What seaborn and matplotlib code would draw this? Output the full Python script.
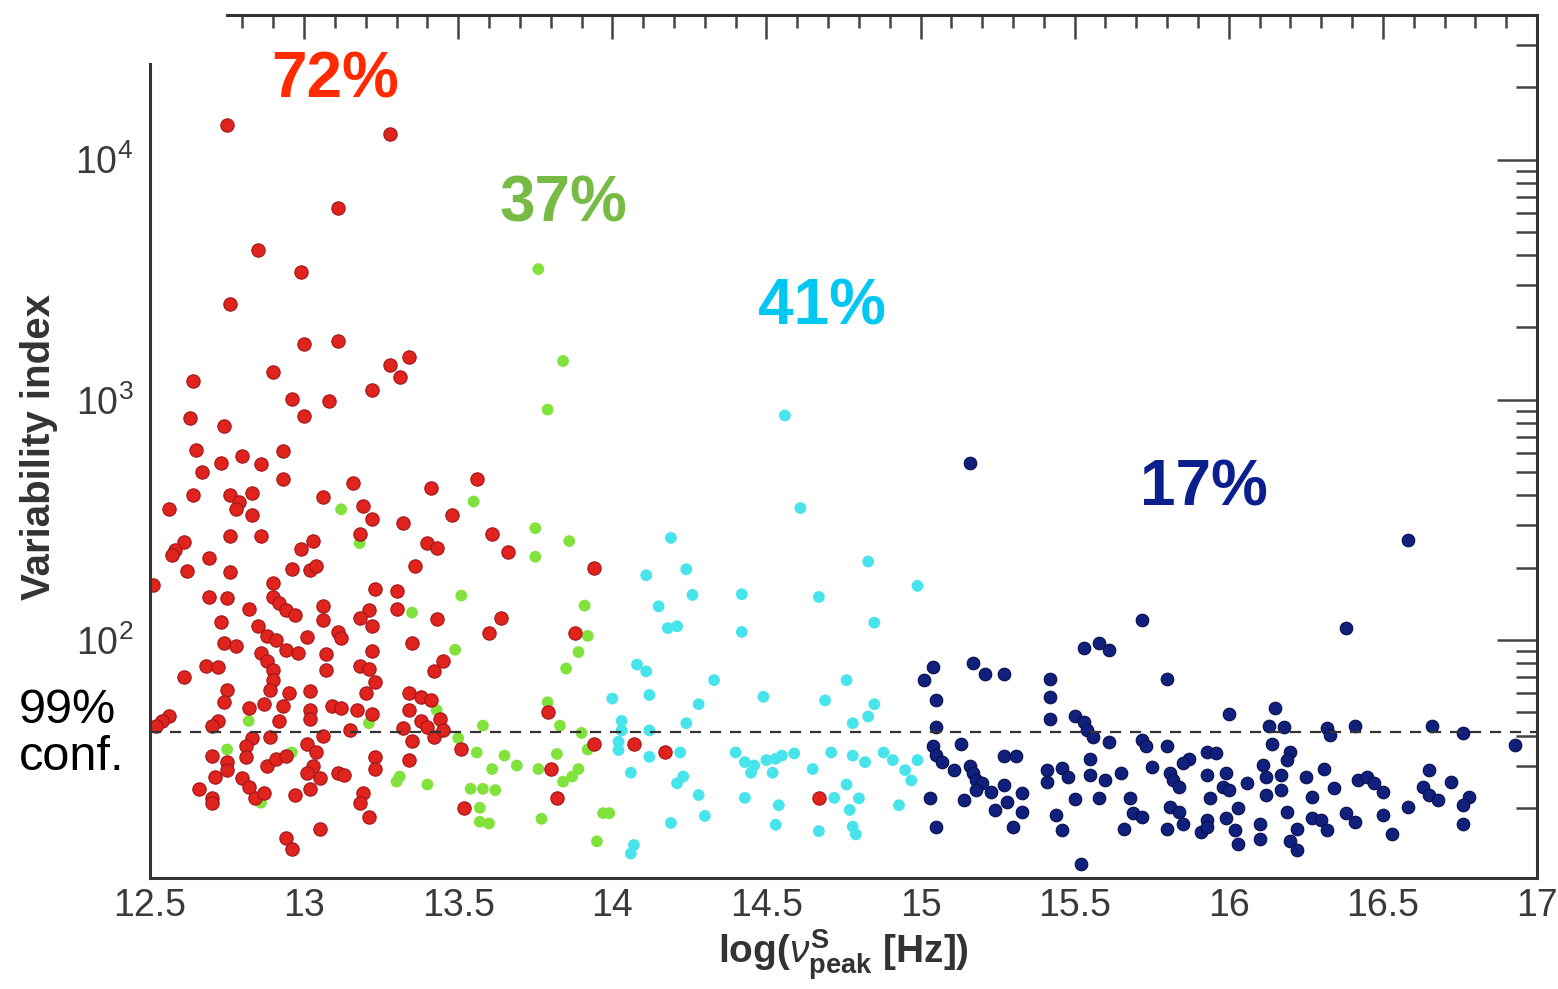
import numpy as np
import pandas as pd
import matplotlib
matplotlib.use('Agg')
import matplotlib.pyplot as plt
import seaborn as sns
from matplotlib.ticker import MultipleLocator, LogLocator, NullFormatter, FuncFormatter
from matplotlib.patches import Rectangle

# Dados: log(nu_peak) e indice de variabilidade
red_x = [12.75, 13.28, 13.11, 12.85, 12.99, 12.76, 13.00, 13.11, 13.28, 13.34, 12.90, 13.31, 12.64, 12.96, 13.08,
         13.00, 12.63, 12.74, 13.22, 12.65, 12.67, 12.73, 12.80, 12.86, 12.93, 12.93, 13.16, 13.41, 13.56,
         12.64, 12.76, 12.83, 12.79, 12.78, 12.83, 12.56, 13.06, 12.76, 12.86, 12.61, 12.58, 12.57, 12.69, 12.99,
         13.03, 12.62, 12.76, 12.96, 13.02, 13.04, 12.51, 12.90, 12.69, 12.75, 12.90, 12.92, 12.94, 12.97, 12.82,
         13.06, 13.06, 12.73, 12.85, 12.88, 12.91, 13.01, 12.74, 12.78, 12.94, 12.98, 12.86, 12.88, 13.07, 13.07,
         12.68, 12.72, 12.61, 12.90, 12.90, 12.89, 12.75, 12.74, 12.87, 12.82, 12.95, 13.02, 12.93, 12.92, 13.02,
         13.02, 12.56, 12.54, 12.52, 12.72, 12.70, 12.83, 12.89, 12.81, 12.70, 12.75, 12.75, 12.81, 12.88, 12.91,
         12.94, 13.01, 13.04, 13.03, 13.01, 13.05, 13.02, 12.71, 12.66, 12.70, 12.70, 12.80, 12.82, 12.84, 12.87,
         12.97, 12.94, 12.96, 13.05,
         13.19, 13.22, 13.18, 13.32, 13.48, 13.40, 13.43, 13.36, 13.61, 13.66, 13.23, 13.30, 13.30, 13.21, 13.18,
         13.22, 13.43, 13.64, 13.60, 13.11, 13.12, 13.35, 13.22, 13.18, 13.21, 13.23, 13.20, 13.45, 13.42, 13.09,
         13.12, 13.17, 13.22, 13.34, 13.38, 13.41, 13.34, 13.38, 13.44, 13.40, 13.42, 13.45, 13.32, 13.35, 13.15,
         13.06, 13.23, 13.23, 13.11, 13.13, 13.34, 13.19, 13.18, 13.21, 13.51, 13.52,
         13.94, 13.88, 13.79, 13.94, 14.07, 14.17, 13.80, 13.82, 14.67]
red_y = [14000, 12800, 6300, 4200, 3400, 2500, 1700, 1750, 1400, 1500, 1300, 1250, 1200, 1010, 990,
         860, 840, 780, 1100, 615, 500, 546, 585, 540, 610, 470, 450, 430, 470,
         400, 400, 410, 375, 350, 330, 350, 395, 270, 270, 255, 237, 225, 220, 240,
         257, 193, 192, 197, 196, 203, 170, 173, 151, 150, 151, 142, 133, 127, 134,
         138, 121, 119, 114, 104, 100, 103, 97, 94, 91, 88, 88, 82, 87, 75,
         78, 77, 70, 75, 68, 62, 62, 55, 54, 52, 60, 61, 53, 46, 51,
         47, 48, 46, 44, 46, 44, 39, 39.5, 36, 33, 31, 28.7, 32.6, 30, 32,
         33, 37, 34, 30, 28, 26.5, 24, 27, 24, 22, 20.9, 26.5, 24.5, 22, 23,
         22.6, 15, 13.5, 16.3,
         360, 320, 276, 306, 332, 253, 241, 203, 276, 233, 163, 160, 135, 133, 123,
         114, 122, 123, 107, 108, 102, 97, 90, 78, 76, 67, 60, 82, 74, 53,
         52, 51, 49, 60, 58, 56, 51, 46, 47, 43.6, 39.5, 42, 43, 38, 42,
         40, 32.6, 29, 28, 27.4, 31.6, 23, 21, 18.4, 35, 20,
         200, 107, 50, 37, 37, 34, 29, 22, 22]

green_x = [13.76, 13.84, 13.79, 12.82, 12.75, 12.96, 12.86, 13.12, 13.18, 13.55, 13.51, 13.35, 13.49, 13.21,
           13.43, 13.58, 13.50, 13.56, 13.65, 13.61, 13.31, 13.30, 13.40, 13.54, 13.58, 13.62, 13.57, 13.57,
           13.60, 13.75, 13.86, 13.75, 13.91, 13.92, 13.89, 13.85, 13.79, 13.83, 13.90, 13.92, 13.82, 13.89,
           13.87, 13.84, 13.76, 13.69, 13.77, 13.97, 13.99, 13.95]
green_y = [3500, 1450, 910, 46, 35, 34, 21, 350, 253, 377, 153, 130, 91, 45,
           51, 44, 39, 34, 33, 29, 27, 25.7, 25, 24, 24, 23.7, 20, 17.5,
           17.2, 292, 258, 222, 139, 104, 89, 76, 55, 44, 41, 35, 33.5, 29,
           27, 25.7, 29, 30, 18, 19, 19, 14.5]

cyan_x = [14.19, 14.11, 14.24, 14.26, 14.15, 14.18, 14.21, 14.08, 14.11, 14.33, 14.12, 14.00, 14.28, 14.03,
          14.03, 14.24, 14.12, 14.02, 14.02, 14.12, 14.22, 14.06, 14.23, 14.21, 14.28, 14.30, 14.19, 14.07,
          14.06, 14.61, 14.56, 14.83, 14.99, 14.42, 14.67, 14.85, 14.42, 14.76, 14.49, 14.69, 14.85, 14.83,
          14.78, 14.40, 14.43, 14.46, 14.50, 14.53, 14.55, 14.59, 14.52, 14.45, 14.65, 14.71, 14.78, 14.82,
          14.88, 14.91, 14.95, 14.97, 14.99, 14.76, 14.43, 14.54, 14.72, 14.80, 14.77, 14.93, 14.53, 14.67,
          14.78, 14.79]
cyan_y = [266, 186, 197, 154, 138, 112, 114, 79, 74, 68, 59, 57, 54, 46,
          42, 45, 42, 37.7, 34.8, 32.6, 34, 28, 27, 25.3, 22.6, 18.5, 17.3, 14,
          12.9, 354, 860, 212, 168, 155, 151, 118, 108, 68, 58, 56, 54, 48,
          45, 34, 31, 30, 31.6, 32, 33, 33.7, 28, 28, 29, 34, 33, 31,
          34, 31.6, 28.7, 26, 31.6, 25, 22, 20.5, 22, 21.9, 19.6, 20.5, 17, 16,
          16.7, 15.5]

navy_x = [15.04, 15.01, 15.05, 15.05, 15.04, 15.03, 15.05,
          15.16, 15.72, 15.17, 15.21, 15.27, 15.53, 15.58, 15.61, 15.80, 15.42, 15.42, 15.42, 15.50, 15.53,
          15.54, 15.56, 15.61, 15.13, 15.05, 15.07, 15.11, 15.16, 15.17, 15.18, 15.20, 15.18, 15.23, 15.27,
          15.27, 15.31, 15.14, 15.24, 15.28, 15.33, 15.33, 15.30, 15.41, 15.41, 15.46, 15.48, 15.44, 15.46,
          15.50, 15.55, 15.55, 15.60, 15.65, 15.58, 15.68, 15.69, 15.72, 15.66, 15.52, 15.72, 15.73, 15.75,
          16.58, 16.38, 16.00, 16.15, 16.13, 16.18, 16.32, 16.33, 16.41, 15.80, 15.93, 15.96, 15.87, 15.85,
          16.14, 16.20, 16.19, 16.11, 16.31, 15.81, 15.82, 15.84, 15.93, 15.99, 15.98, 16.00, 15.94, 16.06,
          16.12, 16.17, 16.25, 16.17, 16.12, 16.27, 16.34, 16.42, 16.45, 16.47, 16.50, 15.81, 15.84, 15.80,
          15.85, 15.91, 15.93, 15.93, 15.99, 16.03, 16.02, 16.03, 16.10, 16.10, 16.19, 16.22, 16.20, 16.22,
          16.27, 16.30, 16.32, 16.38, 16.41, 16.50, 16.53, 16.58,
          16.66, 16.76, 16.93, 16.65, 16.63, 16.65, 16.68, 16.72, 16.78, 16.76, 16.76]
navy_y = [77, 68, 56, 43.3, 36, 22, 16.7,
          548, 121, 80, 72, 72, 93, 97, 91, 69, 68.5, 58, 46.7, 48, 45.7,
          42, 39.5, 37.7, 37, 33.2, 31, 28.7, 30, 27.8, 26, 25.3, 23.7, 23.3, 24.9,
          33, 33, 21.5, 19.6, 21.2, 23, 19.3, 16.7, 28.7, 25.7, 29.2, 27, 18.7, 16.2,
          21.7, 32, 27.4, 26, 27.8, 21.9, 21.9, 19, 18.4, 16.4, 11.7, 38.3, 36, 29.6,
          261, 112, 49, 52, 44, 43.3, 43, 40.2, 44, 36, 34, 33.7, 32, 30.6,
          36.9, 34.3, 31.6, 30.1, 29, 27.8, 26, 24.5, 27.4, 27.8, 24.5, 23.7, 21.9, 25.3,
          27, 27.4, 27, 23.7, 22.6, 22.2, 24.1, 26, 27, 25.3, 23.3, 20.2, 19.3, 16.4,
          17.2, 15.9, 17.8, 16.7, 18.1, 19.9, 16.2, 14.2, 17.2, 14.9, 19.3, 16.4, 14.5, 13.3,
          18.1, 17.8, 16.2, 19, 17.5, 18.7, 15.5, 20.2,
          44, 41, 36.5, 28.7, 24.5, 22.6, 21.5, 25.5, 22.2, 20.5, 17.2]

labels = ['72%', '37%', '41%', '17%']
label_x = [13.10, 13.84, 14.68, 15.92]
label_y = [21300, 6500, 2420, 426]
conf_level = 41.5

df = pd.concat([
    pd.DataFrame({'x': green_x, 'y': green_y, 'classe': 'green'}),
    pd.DataFrame({'x': cyan_x, 'y': cyan_y, 'classe': 'cyan'}),
    pd.DataFrame({'x': navy_x, 'y': navy_y, 'classe': 'navy'}),
    pd.DataFrame({'x': red_x, 'y': red_y, 'classe': 'red'}),
], ignore_index=True)

sns.set_theme(style='white')
plt.rcParams['font.family'] = ['Liberation Sans', 'DejaVu Sans']
plt.rcParams['mathtext.fontset'] = 'custom'
plt.rcParams['mathtext.rm'] = 'Liberation Sans'
plt.rcParams['mathtext.it'] = 'Liberation Sans:italic'
plt.rcParams['mathtext.bf'] = 'Liberation Sans:bold'

fig = plt.figure(figsize=(15.58, 9.89), dpi=100)
ax = fig.add_axes([0.0963, 0.1122, 0.8902, 0.8726])
ax.set_yscale('log')

estilos = {
    'green': dict(color='#82e23c', s=72, edgecolor='none', linewidth=0),
    'cyan': dict(color='#48e4ec', s=72, edgecolor='none', linewidth=0),
    'navy': dict(color='#10207c', s=82, edgecolor='#070f4c', linewidth=0.8),
    'red': dict(color='#e0231c', s=92, edgecolor='#a0151a', linewidth=0.8),
}
for classe in ['green', 'cyan', 'navy', 'red']:
    sns.scatterplot(data=df[df['classe'] == classe], x='x', y='y', ax=ax, legend=False, **estilos[classe])

# linha de 99% de confianca
ax.axhline(conf_level, color='#333333', ls=(0, (5, 4)), lw=1.6, zorder=5)

ax.set_xlim(12.5, 17)
ax.set_ylim(10.2, 40000)

ax.xaxis.set_major_locator(MultipleLocator(0.5))
ax.xaxis.set_minor_locator(MultipleLocator(0.1))
ax.xaxis.set_major_formatter(FuncFormatter(lambda v, p: f'{v:g}'))
ax.yaxis.set_major_locator(LogLocator(base=10))
ax.yaxis.set_minor_locator(LogLocator(base=10, subs=np.arange(2, 10)))
ax.yaxis.set_minor_formatter(NullFormatter())

ax.tick_params(axis='both', which='both', direction='in', top=True, right=True, color='#444444', width=1.8)
ax.tick_params(axis='x', which='major', length=17, labelsize=27, pad=7, labelcolor='#3a3a3a')
ax.tick_params(axis='x', which='minor', length=9)
ax.tick_params(axis='y', which='major', length=29, labelsize=27, pad=12, labelcolor='#3a3a3a')
ax.tick_params(axis='y', which='minor', length=15)
for sp in ax.spines.values():
    sp.set_color('#333333')
    sp.set_linewidth(2.2)

ax.set_xlabel(r'log($\nu^{\mathbf{S}}_{\mathbf{peak}}$ [Hz])', fontsize=28, fontweight='bold', color='#333333')
ax.set_ylabel('Variability index', fontsize=29, fontweight='bold', color='#333333')
ax.yaxis.set_label_coords(-0.066, 0.5)
ax.xaxis.set_label_coords(0.5, -0.057)

cores_txt = ['#ff2a00', '#77bb44', '#00c8f2', '#0b1f8f']
for t, lx, ly, c in zip(labels, label_x, label_y, cores_txt):
    ax.text(lx, ly, t, color=c, fontsize=46, fontweight='bold', ha='center', va='center')

fig.text(0.012, 0.258, '99%\nconf.', fontsize=35, ha='left', va='center', linespacing=1.05, color='black')

# canto superior esquerdo coberto (caixa de texto do slide)
fig.add_artist(Rectangle((0, 1 - 63 / 989), 226 / 1558, 63 / 989, transform=fig.transFigure,
                         facecolor='white', edgecolor='none', zorder=10))

fig.savefig('out.png', dpi=100)
